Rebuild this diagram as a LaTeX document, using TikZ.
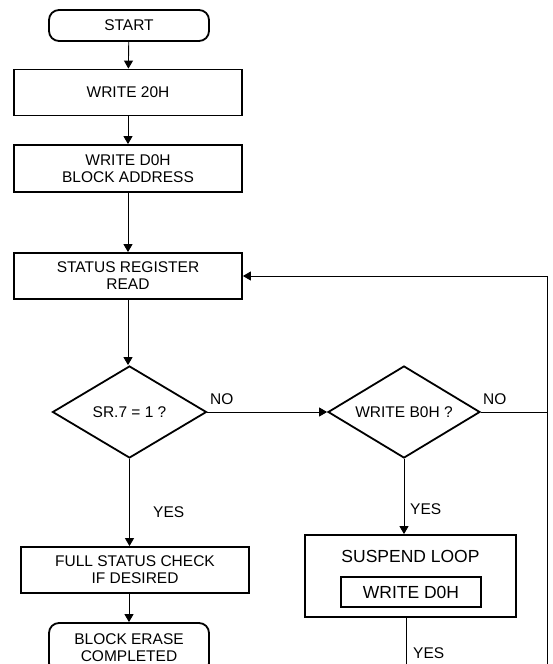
\documentclass[tikz,border=0pt]{standalone}
\usepackage{fontspec}
\setmainfont{Liberation Sans}
\usepackage{tikz}
\usetikzlibrary{shapes.geometric,arrows.meta}

\begin{document}
\begin{tikzpicture}[x=1pt,y=-1pt,
		font=\fontsize{15.5}{17}\selectfont,
		box/.style={draw,line width=1.8pt,rectangle,inner sep=0pt,align=center},
		term/.style={box,rounded corners=10pt},
		cond/.style={draw,line width=1.8pt,diamond,aspect=1.6,inner sep=0pt},
		flow/.style={line width=0.9pt,-{Triangle[length=8pt,width=9pt]}},
		wire/.style={line width=0.9pt},
		tag/.style={inner sep=0pt,anchor=base west}]
		\useasboundingbox (0,0) rectangle (552,664);
		\clip (0,0) rectangle (552,664);
		
		\node[term,minimum width=160pt,minimum height=31pt] (start) at (129,25.5) {START};
		\node[box,minimum width=228pt,minimum height=46pt] (wr20) at (128,92.5) {WRITE 20H};
		\node[box,minimum width=228pt,minimum height=47pt] (wrd0) at (128,168.5) {WRITE D0H\\BLOCK ADDRESS};
		\node[box,minimum width=228pt,minimum height=46pt] (srd) at (128,276) {STATUS REGISTER\\READ};
		\node[cond,minimum width=154pt,minimum height=92pt] (sr7) at (129.5,412) {SR.7 = 1 ?};
		\node[cond,minimum width=152pt,minimum height=92pt] (wrb0) at (404,412) {WRITE B0H ?};
		\node[box,minimum width=228pt,minimum height=46pt] (chk) at (135,570) {FULL STATUS CHECK\\IF DESIRED};
		\node[term,minimum width=160pt,minimum height=50pt] (done) at (129,648) {BLOCK ERASE\\COMPLETED};
		
		\node[box,minimum width=211pt,minimum height=82pt] (susp) at (410.5,576) {};
		\node[inner sep=0pt,font=\fontsize{17.5}{19}\selectfont] (susptitle) at (410.5,556.5) {SUSPEND LOOP};
		\node[box,minimum width=140pt,minimum height=30pt,font=\fontsize{17.5}{19}\selectfont] (wrd0b) at (411,592) {WRITE D0H};
		
		\coordinate (rbot) at (547,664);
		\coordinate (sbot) at (406,664);
		
		\draw[flow] (start) -- (wr20);
		\draw[flow] (wr20) -- (wrd0);
		\draw[flow] (wrd0) -- (srd);
		\draw[flow] (srd.south) -- (srd.south |- sr7.north);
		\draw[flow] (sr7.east) -- (wrb0.west);
		\draw[wire] (wrb0.east) -- (wrb0.east -| rbot);
		\draw[flow] (rbot) |- (srd.east);
		\draw[flow] (sr7.south) -- (sr7.south |- chk.north);
		\draw[flow] (done.north |- chk.south) -- (done.north);
		\draw[flow] (wrb0.south) -- (wrb0.south |- susp.north);
		\draw[wire] (susp.south -| sbot) -- (sbot);
		
		\node[tag] (no1) at (210,404) {NO};
		\node[tag] (no2) at (483,404) {NO};
		\node[tag] (yes1) at (153,517) {YES};
		\node[tag] (yes2) at (410,514) {YES};
		\node[tag] (yes3) at (413,658) {YES};
	\end{tikzpicture}
\end{document}
